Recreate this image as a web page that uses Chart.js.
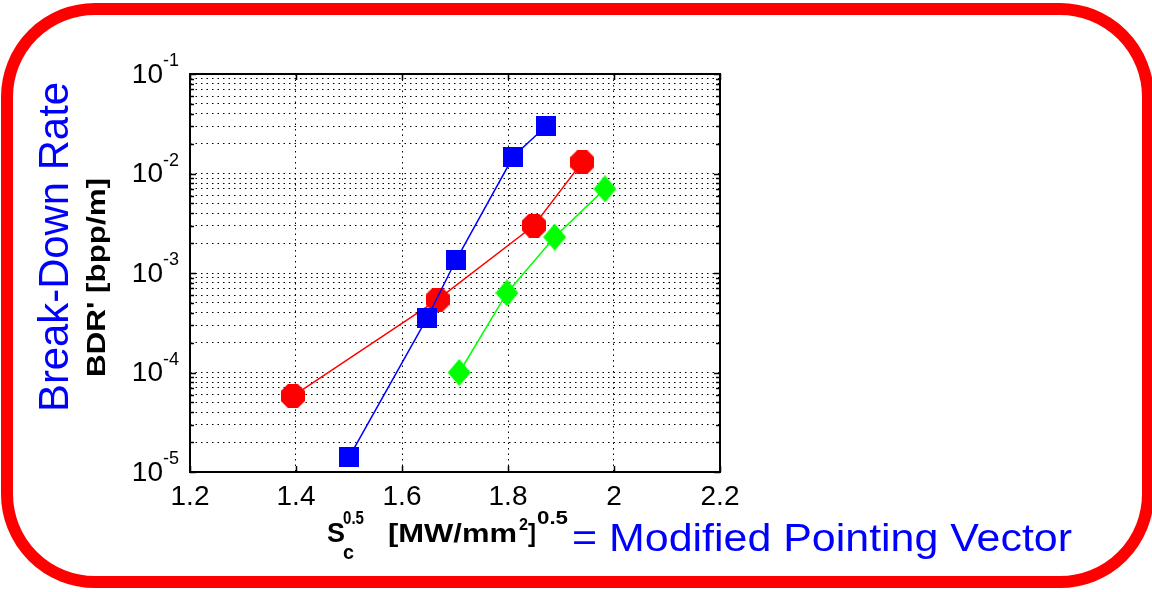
<!DOCTYPE html>
<html>
<head>
<meta charset="utf-8">
<title>Break-Down Rate</title>
<script src="https://cdn.jsdelivr.net/npm/chart.js@4/dist/chart.umd.min.js"></script>
<style>
  html, body { margin: 0; padding: 0; background: #fff; overflow: hidden; }
  #wrap { position: relative; width: 1152px; height: 592px; }
</style>
</head>
<body>
<div id="wrap"><canvas id="bdrChart" width="1152" height="592"></canvas></div>
<script>
// --- values ---
const xTicks = [1.2, 1.4, 1.6, 1.8, 2.0, 2.2];
const xTickLabels = ['1.2', '1.4', '1.6', '1.8', '2', '2.2'];
const yDecades = [-5, -4, -3, -2, -1];
const yTickLabels = ['-5', '-4', '-3', '-2', '-1'];

const blueX = [1.50, 1.647, 1.702, 1.81, 1.872];
const blueY = [1.4e-5, 3.5e-4, 1.35e-3, 1.48e-2, 3.0e-2];

const redX = [1.394, 1.667, 1.849, 1.94];
const redY = [5.8e-5, 5.4e-4, 3.0e-3, 1.3e-2];

const greenX = [1.708, 1.798, 1.888, 1.983];
const greenY = [1.0e-4, 6.3e-4, 2.3e-3, 7.0e-3];

const FONT = '"Liberation Sans", Arial, Helvetica, sans-serif';

// all log ticks: 1..9 x 10^e, last decade only its 1
const yTickVals = [];
yDecades.forEach((e, i) => {
    const top = i === yDecades.length - 1 ? 1 : 9;
    for (let m = 1; m <= top; m++) yTickVals.push(m * Math.pow(10, e));
});

function toPoints(xs, ys) {
    return xs.map((x, i) => ({ x: x, y: ys[i] }));
}

// little canvases for the marker shapes (matlab style)
function makeMarker(shape, color, w, h) {
    const c = document.createElement('canvas');
    c.width = w; c.height = h;
    const g = c.getContext('2d');
    g.fillStyle = color;
    g.beginPath();
    if (shape === 'square') {
        g.rect(0, 0, w, h);
    } else if (shape === 'diamond') {
        g.moveTo(w / 2, 0); g.lineTo(w, h / 2); g.lineTo(w / 2, h); g.lineTo(0, h / 2);
    } else if (shape === 'octagon') {
        for (let k = 0; k < 8; k++) {
            const a = Math.PI / 8 + k * Math.PI / 4;
            const px = w / 2 + (w / 2) * Math.cos(a) / Math.cos(Math.PI / 8);
            const py = h / 2 + (h / 2) * Math.sin(a) / Math.cos(Math.PI / 8);
            if (k === 0) g.moveTo(Math.min(px, w), py); else g.lineTo(Math.max(0, Math.min(px, w)), Math.max(0, Math.min(py, h)));
        }
    }
    g.closePath();
    g.fill();
    return c;
}

const squareMark = makeMarker('square', '#0000ff', 20, 20);
const octMark = makeMarker('octagon', '#ff0000', 24, 24);
const diamondMark = makeMarker('diamond', '#00ff00', 23, 27);

// draw text squeezed/stretched to a given width
function fitText(ctx, text, x, y, font, width, color, rotate) {
    ctx.save();
    ctx.font = font;
    ctx.fillStyle = color;
    ctx.textAlign = 'left';
    ctx.textBaseline = 'alphabetic';
    const w = ctx.measureText(text).width;
    ctx.translate(x, y);
    if (rotate) ctx.rotate(-Math.PI / 2);
    ctx.scale(width / w, 1);
    ctx.fillText(text, 0, 0);
    ctx.restore();
}

const decorPlugin = {
    id: 'decor',
    afterDraw(chart) {
        const ctx = chart.ctx;
        const area = chart.chartArea;
        const xs = chart.scales.x;
        const ys = chart.scales.y;

        // red rounded frame
        ctx.save();
        ctx.strokeStyle = '#ff0000';
        ctx.lineWidth = 12;
        ctx.beginPath();
        ctx.roundRect(7, 9, 1141, 573, 88);
        ctx.stroke();
        ctx.restore();

        // inward tick marks
        ctx.save();
        ctx.strokeStyle = '#000';
        ctx.lineWidth = 1.5;
        ctx.beginPath();
        yTickVals.forEach(v => {
            const py = Math.round(ys.getPixelForValue(v)) + 0.5;
            const len = Math.abs(Math.log10(v) % 1) < 1e-9 ? 6 : 4;
            ctx.moveTo(area.left, py); ctx.lineTo(area.left + len, py);
            ctx.moveTo(area.right, py); ctx.lineTo(area.right - len, py);
        });
        xTicks.forEach(v => {
            const px = Math.round(xs.getPixelForValue(v)) + 0.5;
            ctx.moveTo(px, area.top); ctx.lineTo(px, area.top + 6);
            ctx.moveTo(px, area.bottom); ctx.lineTo(px, area.bottom - 6);
        });
        ctx.stroke();
        // axes box
        ctx.lineWidth = 2;
        ctx.strokeRect(area.left, area.top, area.right - area.left, area.bottom - area.top);
        ctx.restore();

        // y tick labels 10^e
        ctx.save();
        ctx.fillStyle = '#000';
        yDecades.forEach((e, i) => {
            const py = ys.getPixelForValue(Math.pow(10, e));
            ctx.font = '28px ' + FONT;
            ctx.textAlign = 'right';
            ctx.textBaseline = 'middle';
            ctx.fillText('10', 163, py + 1);
            ctx.font = '18px ' + FONT;
            ctx.textAlign = 'left';
            ctx.textBaseline = 'alphabetic';
            ctx.fillText(yTickLabels[i], 163, py - 8);
        });
        // x tick labels
        ctx.font = '28px ' + FONT;
        ctx.textAlign = 'center';
        ctx.textBaseline = 'alphabetic';
        xTicks.forEach((v, i) => {
            ctx.fillText(xTickLabels[i], xs.getPixelForValue(v), 505);
        });
        ctx.restore();

        // axis titles
        fitText(ctx, 'Break-Down Rate', 68, 412, '42px ' + FONT, 330, '#0000ff', true);
        fitText(ctx, "BDR' [bpp/m]", 105, 377, 'bold 25px ' + FONT, 199, '#000', true);

        fitText(ctx, 'S', 327, 542, 'bold 27px ' + FONT, 18, '#000');
        fitText(ctx, '0.5', 343, 524, 'bold 18px ' + FONT, 21, '#000');
        fitText(ctx, 'c', 343, 559, 'bold 20px ' + FONT, 11, '#000');
        fitText(ctx, '[MW/mm', 388, 542, 'bold 25px ' + FONT, 129, '#000');
        fitText(ctx, '2', 519, 530, 'bold 17px ' + FONT, 9, '#000');
        fitText(ctx, ']', 528, 542, 'bold 25px ' + FONT, 8, '#000');
        fitText(ctx, '0.5', 537, 524, 'bold 18px ' + FONT, 31, '#000');
        fitText(ctx, '= Modified Pointing Vector', 572, 551, '39px ' + FONT, 500, '#0000ff');
    }
};

const dotted = { display: false, dash: [1.5, 4] };

const chart = new Chart(document.getElementById('bdrChart').getContext('2d'), {
    type: 'line',
    data: {
        datasets: [
            {
                label: 'blue',
                data: toPoints(blueX, blueY),
                borderColor: '#0000ff',
                borderWidth: 1.5,
                pointStyle: squareMark,
                tension: 0
            },
            {
                label: 'red',
                data: toPoints(redX, redY),
                borderColor: '#ff0000',
                borderWidth: 1.5,
                pointStyle: octMark,
                tension: 0
            },
            {
                label: 'green',
                data: toPoints(greenX, greenY),
                borderColor: '#00ff00',
                borderWidth: 1.5,
                pointStyle: diamondMark,
                tension: 0
            }
        ]
    },
    options: {
        responsive: false,
        animation: false,
        layout: { padding: { left: 190, right: 432, top: 74, bottom: 120 } },
        plugins: { legend: { display: false }, tooltip: { enabled: false } },
        scales: {
            x: {
                type: 'linear',
                min: 1.2,
                max: 2.2,
                afterBuildTicks: (scale) => { scale.ticks = xTicks.map(v => ({ value: v })); },
                ticks: { display: false },
                grid: { color: '#000', lineWidth: 1, drawTicks: false },
                border: dotted
            },
            y: {
                type: 'logarithmic',
                min: 1e-5,
                max: 1e-1,
                afterBuildTicks: (scale) => { scale.ticks = yTickVals.map(v => ({ value: v })); },
                ticks: { display: false },
                grid: { color: '#000', lineWidth: 1, drawTicks: false },
                border: dotted
            }
        }
    },
    plugins: [decorPlugin]
});
</script>
</body>
</html>
